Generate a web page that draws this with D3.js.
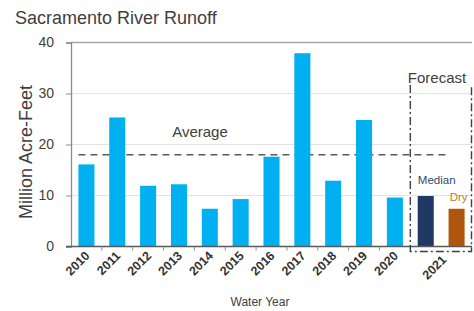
<!DOCTYPE html>
<html><head><meta charset="utf-8">
<script src="https://cdn.jsdelivr.net/npm/d3@7"></script>
<style>
body{margin:0;background:#fff;}
svg text{font-family:"Liberation Sans",Arial,sans-serif;}
</style></head>
<body><svg id="c" width="474" height="311"></svg>
<script>
const years = ["2010","2011","2012","2013","2014","2015","2016","2017","2018","2019","2020"];
const runoff = [16.1,25.3,11.9,12.2,7.4,9.3,17.6,37.9,12.9,24.8,9.6];
const forecastKeys = ["Median","Dry"];
const forecastValues = [9.9,7.4];
const forecastYear = "2021";
const averageValue = 18;
const yTicks = [0,10,20,30,40];

const svg = d3.select("#c");
const L=71, R=472, T=42.5, B=246.5;
const x = d3.scaleBand().domain(years.concat(forecastKeys)).range([L,R]).paddingInner(0.48).paddingOuter(0.24);
const y = d3.scaleLinear().domain([0,40]).range([B,T]);

// gridlines
svg.append("g").selectAll("line").data(yTicks.slice(1)).join("line")
  .attr("x1",L).attr("x2",R).attr("y1",d=>y(d)).attr("y2",d=>y(d))
  .attr("stroke",d=>d===40?"#a6a6a6":"#e3e3e3").attr("stroke-width",d=>d===40?1.5:1);

// average line
svg.append("line").attr("x1",x("2010")).attr("x2",x("Dry")).attr("y1",y(averageValue)).attr("y2",y(averageValue))
  .attr("stroke","#5a5a5a").attr("stroke-width",1.6).attr("stroke-dasharray","7,5");

// bars
svg.append("g").selectAll("rect").data(years).join("rect")
  .attr("x",d=>x(d)).attr("width",x.bandwidth())
  .attr("y",(d,i)=>y(runoff[i])).attr("height",(d,i)=>B-y(runoff[i]))
  .attr("fill","#00b0f0");
const fColors=["#1f3864","#b0560c"];
svg.append("g").selectAll("rect").data(forecastKeys).join("rect")
  .attr("x",d=>x(d)).attr("width",x.bandwidth())
  .attr("y",(d,i)=>y(forecastValues[i])).attr("height",(d,i)=>B-y(forecastValues[i]))
  .attr("fill",(d,i)=>fColors[i]);

// y axis
const ya = svg.append("g").attr("transform",`translate(${L},0)`)
  .call(d3.axisLeft(y).tickValues(yTicks).tickSize(5).tickPadding(12));
ya.select(".domain").attr("stroke","#8c8c8c").attr("stroke-width",1.3);
ya.selectAll(".tick line").attr("stroke","#8c8c8c");
ya.selectAll("text").attr("font-size",14).attr("fill","#404040").attr("font-family","Liberation Sans, Arial, sans-serif");

// x baseline
svg.append("line").attr("x1",L-5).attr("x2",R).attr("y1",B).attr("y2",B).attr("stroke","#595959").attr("stroke-width",1.3);
// boundary ticks
const step = x.step();
svg.append("g").selectAll("line").data(years.slice(0,-1)).join("line")
  .attr("x1",d=>x(d)+x.bandwidth()+(step-x.bandwidth())/2).attr("x2",d=>x(d)+x.bandwidth()+(step-x.bandwidth())/2)
  .attr("y1",B).attr("y2",B+4).attr("stroke","#8c8c8c");

// x labels
const cx = d=>x(d)+x.bandwidth()/2;
svg.append("g").selectAll("text").data(years).join("text")
  .attr("transform",d=>`translate(${cx(d)+4},${B+10}) rotate(-45)`)
  .attr("text-anchor","end").attr("font-size",12.5).attr("font-weight","bold").attr("fill","#333").text(d=>d);
const fx = (cx("Median")+cx("Dry"))/2;
svg.append("text").attr("transform",`translate(${fx+6},${B+14}) rotate(-45)`)
  .attr("text-anchor","end").attr("font-size",12.5).attr("font-weight","bold").attr("fill","#333").text(forecastYear);

// forecast box
const bx1 = x("Median")-(step-x.bandwidth())/2, bx2 = R-0.5, by1 = 85, by2 = B+5;
svg.append("path").attr("d",`M${bx1},${by1}V${by2}H${bx2}V${by1}`)
  .attr("fill","none").attr("stroke","#404040").attr("stroke-width",1.4).attr("stroke-dasharray","8,3,2,3");

// texts
svg.append("text").attr("x",15).attr("y",24).attr("font-size",18).attr("fill","#404040").text("Sacramento River Runoff");
svg.append("text").attr("transform",`translate(32,152) rotate(-90)`).attr("text-anchor","middle")
  .attr("font-size",18).attr("fill","#404040").text("Million Acre-Feet");
svg.append("text").attr("x",260).attr("y",306).attr("text-anchor","middle").attr("font-size",12).attr("fill","#404040").text("Water Year");
svg.append("text").attr("x",200).attr("y",137).attr("text-anchor","middle").attr("font-size",15).attr("fill","#404040").text("Average");
svg.append("text").attr("x",437).attr("y",83).attr("text-anchor","middle").attr("font-size",15).attr("fill","#404040").text("Forecast");
svg.append("text").attr("x",cx("Median")+11).attr("y",184).attr("text-anchor","middle").attr("font-size",11.5).attr("fill","#2f4a6e").text(forecastKeys[0]);
svg.append("text").attr("x",cx("Dry")+2).attr("y",201).attr("text-anchor","middle").attr("font-size",11.5).attr("fill","#c8782a").text(forecastKeys[1]);
</script></body></html>
